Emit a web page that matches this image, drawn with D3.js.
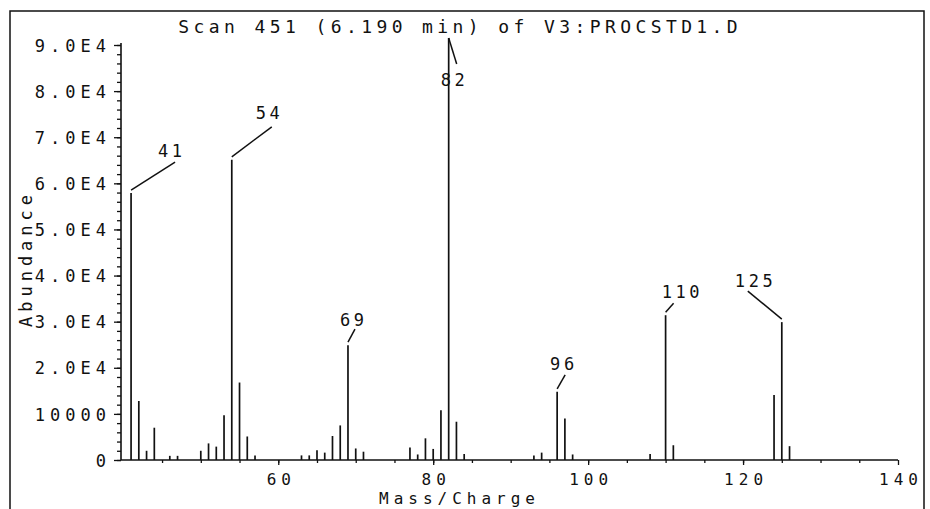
<!DOCTYPE html>
<html>
<head>
<meta charset="utf-8">
<script src="https://cdn.jsdelivr.net/npm/d3@7"></script>
<style>
  html, body { margin: 0; padding: 0; background: #fff; }
  svg { display: block; }
  text { font-family: "DejaVu Sans Mono", "Liberation Mono", monospace; fill: #111; }
</style>
</head>
<body>
<div id="chart"></div>
<script>
// Scan 451 mass spectrum — peaks
const mz = [41, 42, 43, 44, 46, 47, 50, 51, 52, 53, 54, 55, 56, 57,
  63, 64, 65, 66, 67, 68, 69, 70, 71, 77, 78, 79, 80, 81, 82, 83, 84,
  93, 94, 96, 97, 98, 108, 110, 111, 124, 125, 126]
const abundance = [57900, 12800, 2000, 7000, 900, 900, 2000, 3600, 2900, 9700, 65100, 16800, 5100, 1000,
  1000, 1000, 2100, 1600, 5200, 7500, 24900, 2500, 1800, 2700, 1200, 4700, 2400, 10800, 91500, 8300, 1300,
  1000, 1600, 14800, 9000, 1200, 1300, 31400, 3200, 14100, 29900, 3000]
const labelledPeaks = [41, 54, 69, 82, 96, 110, 125]

const yTicks = [0, 10000, 20000, 30000, 40000, 50000, 60000, 70000, 80000, 90000]
const yTickLabels = ['0', '10000', '2.0E4', '3.0E4', '4.0E4', '5.0E4', '6.0E4', '7.0E4', '8.0E4', '9.0E4']
const xTicks = [60, 80, 100, 120, 140]

const TITLE = 'Scan 451 (6.190 min) of V3:PROCSTD1.D'

// leader line end and label anchor, relative to peak top (layout only)
const LEADERS = {
  41: { lx: 44, ly: -28, tx: 39, ty: -33 },
  54: { lx: 40, ly: -30, tx: 36, ty: -38 },
  69: { lx: 7, ly: -13, tx: 4, ty: -16 },
  82: { lx: 8, ly: 26, tx: 4, ty: 48 },
  96: { lx: 8, ly: -14, tx: 5, ty: -19 },
  110: { lx: 8, ly: -9, tx: 15, ty: -14 },
  125: { lx: -34, ly: -28, tx: -28, ty: -32 },
}

const W = 930, H = 509
const LS = 4.4     // title spacing
const LS_SM = 5.0  // axis text spacing
const svg = d3.select('#chart').append('svg').attr('width', W).attr('height', H)

// frame
svg.append('rect')
  .attr('x', 10).attr('y', 11).attr('width', 914).attr('height', 530)
  .attr('fill', 'none').attr('stroke', '#111').attr('stroke-width', 1.5)

const x = d3.scaleLinear().domain([39.7, 140]).range([121, 898])
const y = d3.scaleLinear().domain([0, 90000]).range([460, 45])

function styleText(g, size, ls) {
  g.selectAll('text')
    .attr('font-size', size + 'px')
    .attr('letter-spacing', ls + 'px')
    .attr('fill', '#111')
}

// Y axis: minor then major
svg.append('g').attr('transform', 'translate(121,0)')
  .call(d3.axisLeft(y).tickValues(d3.range(0, 90001, 2000)).tickSize(4).tickFormat(''))
  .call(g => {
    g.select('.domain').remove()
    g.selectAll('.tick line').attr('stroke', '#111').attr('stroke-width', 1.3)
  })

svg.append('g').attr('transform', 'translate(121,0)')
  .call(d3.axisLeft(y).tickValues(yTicks).tickSize(7).tickPadding(6)
    .tickFormat((d, i) => yTickLabels[i]))
  .call(g => {
    g.select('.domain').attr('d', `M0,${y(0)}V${y(90000) - 2}`).attr('stroke', '#111').attr('stroke-width', 1.6)
    g.selectAll('.tick line').attr('stroke', '#111').attr('stroke-width', 1.3)
    styleText(g, 17, LS_SM)
    g.selectAll('.tick text').attr('dy', '0.36em').attr('dx', 3)
  })

// X axis: minor then major
svg.append('g').attr('transform', `translate(0,${y(0)})`)
  .call(d3.axisBottom(x).tickValues(d3.range(45, 140, 5)).tickSize(3).tickFormat(''))
  .call(g => {
    g.select('.domain').remove()
    g.selectAll('.tick line').attr('stroke', '#111').attr('stroke-width', 1.3)
  })

svg.append('g').attr('transform', `translate(0,${y(0)})`)
  .call(d3.axisBottom(x).tickValues(xTicks).tickSize(5).tickFormat(d => d))
  .call(g => {
    g.select('.domain').attr('d', `M${x.range()[0]},0H${x.range()[1]}`).attr('stroke', '#111').attr('stroke-width', 1.6)
    g.selectAll('.tick line').attr('stroke', '#111').attr('stroke-width', 1.3)
    styleText(g, 16, LS_SM)
    g.selectAll('.tick text').attr('y', 25).attr('dy', 0).attr('dx', LS_SM / 2)
  })

// peaks
svg.append('g').attr('class', 'peaks')
  .selectAll('line')
  .data(mz.map((m, i) => ({ m, v: abundance[i] })))
  .join('line')
  .attr('x1', d => x(d.m)).attr('x2', d => x(d.m))
  .attr('y1', y(0)).attr('y2', d => y(d.v))
  .attr('stroke', '#111').attr('stroke-width', 1.7)

// peak annotations
const ann = svg.append('g').attr('class', 'annotations')
labelledPeaks.forEach(m => {
  const v = abundance[mz.indexOf(m)]
  const px = x(m), py = y(v) - (m === 82 ? 0 : 3)
  const o = LEADERS[m]
  ann.append('line')
    .attr('x1', px).attr('y1', py)
    .attr('x2', px + o.lx).attr('y2', py + o.ly)
    .attr('stroke', '#111').attr('stroke-width', 1.5)
  ann.append('text')
    .attr('x', px + o.tx + 1.8).attr('y', py + o.ty)
    .attr('text-anchor', 'middle')
    .attr('font-size', '17px').attr('letter-spacing', '3.6px')
    .text(m)
})

// title and axis titles
svg.append('text')
  .attr('x', 458 + LS / 2).attr('y', 33)
  .attr('text-anchor', 'middle')
  .attr('font-size', '18px').attr('letter-spacing', LS + 'px')
  .text(TITLE)

svg.append('text')
  .attr('transform', `translate(32,${256 + LS_SM / 2}) rotate(-90)`)
  .attr('text-anchor', 'middle')
  .attr('font-size', '17px').attr('letter-spacing', LS_SM + 'px')
  .text('Abundance')

svg.append('text')
  .attr('x', 457 + LS_SM / 2).attr('y', 504)
  .attr('text-anchor', 'middle')
  .attr('font-size', '16px').attr('letter-spacing', LS_SM + 'px')
  .text('Mass/Charge')
</script>
</body>
</html>
